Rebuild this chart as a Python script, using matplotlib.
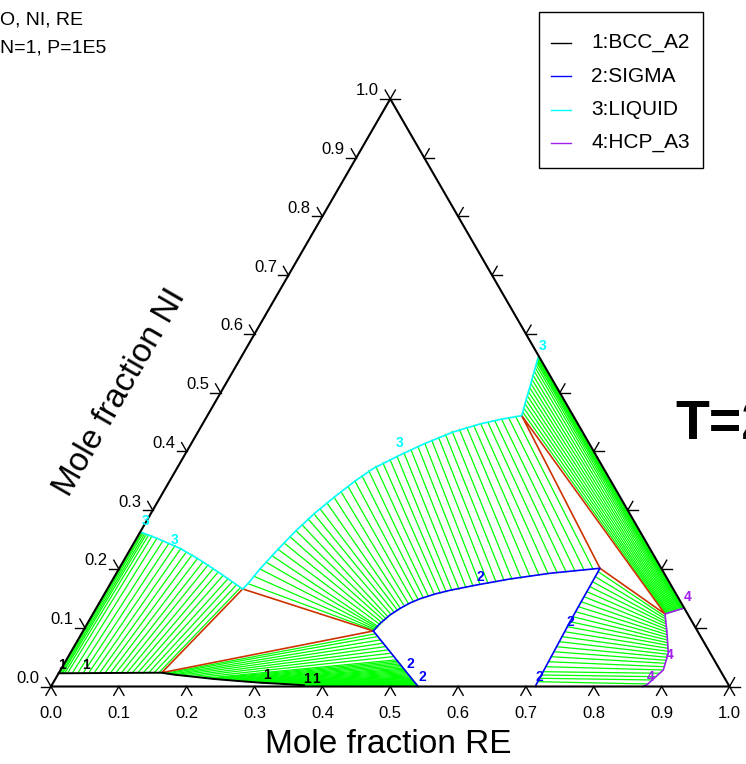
import numpy as np
import matplotlib.pyplot as plt

plt.rcParams['font.family'] = ['Liberation Sans', 'DejaVu Sans']

# ---- data: compositions as (mole fraction RE, mole fraction NI) ----
tick_values = [0.0, 0.1, 0.2, 0.3, 0.4, 0.5, 0.6, 0.7, 0.8, 0.9, 1.0]

phase_names = ['1:BCC_A2', '2:SIGMA', '3:LIQUID', '4:HCP_A3']
phase_colors = ['black', '#0000FF', '#00FFFF', '#A020F0']

# phase boundaries
bcc_re = [0.000, 0.075, 0.1515, 0.1728, 0.1994, 0.2338, 0.2709, 0.3063, 0.3352, 0.3626, 0.372]
bcc_ni = [0.0225, 0.0230, 0.0235, 0.0200, 0.0169, 0.0128, 0.0094, 0.0064, 0.0047, 0.0028, 0.0020]

liq_left_re = [0.003, 0.0297, 0.0725, 0.1119, 0.1528, 0.1995]
liq_left_ni = [0.262, 0.2523, 0.2352, 0.2153, 0.1927, 0.166]

liq_mid_re = [0.1995, 0.2028, 0.2080, 0.2178, 0.2285, 0.2407, 0.2561, 0.2732, 0.2895,
              0.3174, 0.3444, 0.3763, 0.4089, 0.4345, 0.4633, 0.4380]
liq_mid_ni = [0.166, 0.1751, 0.2000, 0.2335, 0.2652, 0.2938, 0.3220, 0.3496, 0.3711,
              0.3940, 0.4136, 0.4332, 0.4468, 0.4545, 0.4609, 0.5603]

sig_mid_re = [0.4278, 0.4313, 0.4388, 0.4480, 0.4580, 0.4692, 0.4872, 0.5061, 0.5410,
              0.5850, 0.6391, 0.7085, 0.7098, 0.7135, 0.7148]
sig_mid_ni = [0.0945, 0.1072, 0.1217, 0.1328, 0.1421, 0.1493, 0.1574, 0.1637, 0.1728,
              0.1830, 0.1927, 0.2012, 0.1103, 0.0026, 0.0]

sig_low_re = [0.4278, 0.541]
sig_low_ni = [0.0945, 0.0]

hcp_re = [0.8653, 0.8432, 0.8594, 0.8815, 0.8884, 0.8767, 0.872]
hcp_ni = [0.1331, 0.1234, 0.0962, 0.0565, 0.0281, 0.0026, 0.0]

# three-phase triangles
tri1_re = [0.1515, 0.1995, 0.4278]
tri1_ni = [0.0235, 0.166, 0.0945]
tri2_re = [0.4633, 0.7085, 0.8432]
tri2_ni = [0.4609, 0.2012, 0.1234]

# tie lines BCC + LIQUID
tl1_a_re = [0.000, 0.002, 0.004, 0.006, 0.009, 0.013, 0.020, 0.028, 0.036, 0.044, 0.052, 0.060,
            0.068, 0.076, 0.084, 0.092, 0.100, 0.108, 0.116, 0.124, 0.132, 0.140, 0.147]
tl1_a_ni = [0.0225] * 23
tl1_b_re = [0.003, 0.005, 0.008, 0.011, 0.015, 0.021, 0.030, 0.041, 0.052, 0.063, 0.074, 0.085,
            0.096, 0.107, 0.118, 0.128, 0.139, 0.149, 0.159, 0.169, 0.178, 0.187, 0.195]
tl1_b_ni = [0.262, 0.261, 0.260, 0.259, 0.258, 0.256, 0.252, 0.248, 0.244, 0.240, 0.235, 0.229,
            0.224, 0.218, 0.212, 0.207, 0.201, 0.195, 0.189, 0.183, 0.178, 0.173, 0.168]

# tie lines LIQUID + SIGMA
tl2_a_re = [0.2028, 0.2054, 0.2080, 0.2110, 0.2144, 0.2178, 0.2212, 0.2247, 0.2285, 0.2322,
            0.2362, 0.2407, 0.2454, 0.2507, 0.2561, 0.2616, 0.2674, 0.2732, 0.2791, 0.2849,
            0.2914, 0.2989, 0.3065, 0.3141, 0.3217, 0.3291, 0.3367, 0.3442, 0.3517, 0.3592,
            0.3668, 0.3743, 0.3832, 0.3922, 0.4011, 0.4101, 0.4192, 0.4281, 0.4370, 0.4461, 0.4550]
tl2_a_ni = [0.1751, 0.1876, 0.2000, 0.2117, 0.2226, 0.2335, 0.2444, 0.2550, 0.2652, 0.2754,
            0.2853, 0.2938, 0.3023, 0.3122, 0.3220, 0.3316, 0.3406, 0.3496, 0.3586, 0.3670,
            0.3745, 0.3806, 0.3862, 0.3917, 0.3973, 0.4029, 0.4083, 0.4136, 0.4190, 0.4240,
            0.4290, 0.4340, 0.4375, 0.4410, 0.4441, 0.4468, 0.4495, 0.4521, 0.4545, 0.4570, 0.4596]
tl2_b_re = [0.4282, 0.4289, 0.4296, 0.4302, 0.4308, 0.4322, 0.4335, 0.4348, 0.4361, 0.4375,
            0.4397, 0.4428, 0.4457, 0.4488, 0.4528, 0.4568, 0.4618, 0.4668, 0.4727, 0.4790,
            0.4867, 0.4943, 0.5020, 0.5096, 0.5186, 0.5274, 0.5364, 0.5455, 0.5562, 0.5669,
            0.5776, 0.5883, 0.6003, 0.6124, 0.6243, 0.6364, 0.6489, 0.6613, 0.6738, 0.6864, 0.6988]
tl2_b_ni = [0.0957, 0.0972, 0.0989, 0.1006, 0.1021, 0.1054, 0.1086, 0.1120, 0.1152, 0.1185,
            0.1227, 0.1262, 0.1298, 0.1328, 0.1366, 0.1405, 0.1445, 0.1483, 0.1516, 0.1540,
            0.1566, 0.1590, 0.1612, 0.1632, 0.1656, 0.1683, 0.1711, 0.1736, 0.1758, 0.1780,
            0.1803, 0.1823, 0.1848, 0.1872, 0.1898, 0.1922, 0.1939, 0.1954, 0.1969, 0.1985, 0.2000]

# tie lines BCC + SIGMA
tl3_a_re = [0.1555, 0.1602, 0.1665, 0.1728, 0.1806, 0.1900, 0.1994, 0.2104, 0.2213, 0.2276,
            0.2338, 0.2401, 0.2463, 0.2525, 0.2586, 0.2648, 0.2709, 0.2771, 0.2833, 0.2895,
            0.2956, 0.3010, 0.3063, 0.3116, 0.3169, 0.3215, 0.3261, 0.3307, 0.3352, 0.3390,
            0.3428, 0.3466, 0.3504, 0.3535, 0.3565, 0.3596, 0.3626]
tl3_a_ni = [0.0220, 0.0215, 0.0207, 0.0200, 0.0191, 0.0180, 0.0169, 0.0155, 0.0142, 0.0135,
            0.0128, 0.0122, 0.0115, 0.0110, 0.0105, 0.0100, 0.0094, 0.0089, 0.0083, 0.0078,
            0.0073, 0.0069, 0.0064, 0.0061, 0.0058, 0.0055, 0.0052, 0.0050, 0.0047, 0.0045,
            0.0042, 0.0040, 0.0037, 0.0035, 0.0033, 0.0031, 0.0028]
tl3_b_re = [0.4335, 0.4391, 0.4459, 0.4527, 0.4595, 0.4663, 0.4731, 0.4799, 0.4867, 0.4895,
            0.4923, 0.4952, 0.4980, 0.5008, 0.5036, 0.5059, 0.5082, 0.5105, 0.5127, 0.5150,
            0.5172, 0.5195, 0.5218, 0.5235, 0.5252, 0.5269, 0.5285, 0.5302, 0.5319, 0.5331,
            0.5342, 0.5354, 0.5365, 0.5376, 0.5387, 0.5399, 0.5410]
tl3_b_ni = [0.0898, 0.0851, 0.0794, 0.0737, 0.0680, 0.0624, 0.0567, 0.0510, 0.0454, 0.0430,
            0.0406, 0.0383, 0.0359, 0.0336, 0.0312, 0.0293, 0.0274, 0.0255, 0.0236, 0.0217,
            0.0198, 0.0180, 0.0161, 0.0147, 0.0132, 0.0118, 0.0104, 0.0090, 0.0076, 0.0067,
            0.0057, 0.0048, 0.0038, 0.0029, 0.0019, 0.0010, 0.0000]

# tie lines LIQUID + HCP
tl4_a_re = [0.4618, 0.4600, 0.4582, 0.4565, 0.4547, 0.4529, 0.4512, 0.4494, 0.4476, 0.4458,
            0.4441, 0.4426, 0.4413, 0.4403, 0.4395, 0.4390, 0.4385, 0.4383]
tl4_a_ni = [0.4669, 0.4738, 0.4808, 0.4877, 0.4947, 0.5017, 0.5086, 0.5156, 0.5225, 0.5295,
            0.5364, 0.5424, 0.5474, 0.5514, 0.5543, 0.5563, 0.5583, 0.5593]
tl4_b_re = [0.8443, 0.8454, 0.8465, 0.8476, 0.8489, 0.8503, 0.8516, 0.8529, 0.8543, 0.8556,
            0.8569, 0.8582, 0.8596, 0.8609, 0.8622, 0.8631, 0.8640, 0.8646]
tl4_b_ni = [0.1239, 0.1244, 0.1249, 0.1253, 0.1259, 0.1265, 0.1271, 0.1277, 0.1283, 0.1288,
            0.1294, 0.1300, 0.1306, 0.1312, 0.1317, 0.1321, 0.1325, 0.1328]

# tie lines SIGMA + HCP
tl5_a_re = [0.7086, 0.7088, 0.7089, 0.7090, 0.7091, 0.7091, 0.7092, 0.7094, 0.7095, 0.7096,
            0.7098, 0.7100, 0.7104, 0.7106, 0.7110, 0.7113, 0.7116, 0.7118, 0.7121, 0.7123,
            0.7128, 0.7130, 0.7131, 0.7134]
tl5_a_ni = [0.1954, 0.1869, 0.1784, 0.1699, 0.1614, 0.1528, 0.1443, 0.1358, 0.1273, 0.1188,
            0.1103, 0.1018, 0.0933, 0.0848, 0.0763, 0.0677, 0.0592, 0.0507, 0.0422, 0.0337,
            0.0252, 0.0196, 0.0140, 0.0082]
tl5_b_re = [0.8460, 0.8482, 0.8509, 0.8532, 0.8560, 0.8586, 0.8612, 0.8638, 0.8663, 0.8689,
            0.8715, 0.8740, 0.8769, 0.8797, 0.8820, 0.8831, 0.8844, 0.8856, 0.8870, 0.8883,
            0.8857, 0.8831, 0.8806, 0.8774]
tl5_b_ni = [0.1188, 0.1149, 0.1103, 0.1064, 0.1018, 0.0974, 0.0928, 0.0882, 0.0837, 0.0791,
            0.0746, 0.0701, 0.0650, 0.0599, 0.0548, 0.0497, 0.0446, 0.0395, 0.0337, 0.0281,
            0.0225, 0.0167, 0.0111, 0.0043]

# phase number labels: text, RE, NI, phase index
label_text = ['1', '1', '1', '1', '1', '3', '3', '3', '3', '2', '2', '2', '2', '2', '4', '4', '4']
label_re = [-0.003, 0.033, 0.3085, 0.3709, 0.3842, -0.001, 0.058, 0.307, 0.4353,
            0.539, 0.510, 0.5386, 0.710, 0.7111, 0.8626, 0.8855, 0.8762]
label_ni = [0.037, 0.037, 0.0196, 0.0128, 0.0128, 0.2817, 0.2494, 0.4145, 0.5796,
            0.1864, 0.0383, 0.0162, 0.1098, 0.0162, 0.1523, 0.0536, 0.0162]
label_phase = [0, 0, 0, 0, 0, 2, 2, 2, 2, 1, 1, 1, 1, 1, 3, 3, 3]

H = np.sqrt(3) / 2


def tern(re, ni):
    re = np.asarray(re, dtype=float)
    ni = np.asarray(ni, dtype=float)
    return re + ni / 2, ni * H


def draw_ties(ax, a_re, a_ni, b_re, b_ni):
    xa, ya = tern(a_re, a_ni)
    xb, yb = tern(b_re, b_ni)
    for i in range(len(xa)):
        ax.plot([xa[i], xb[i]], [ya[i], yb[i]], color='#00FF00', lw=0.9, zorder=1)


def draw_curve(ax, re, ni, color, lw=1.2):
    x, y = tern(re, ni)
    ax.plot(x, y, color=color, lw=lw, zorder=3)


fig = plt.figure(figsize=(7.46, 7.64), dpi=100)
ax = fig.add_axes([0, 0, 1, 1])
scale = 678.5
ax.set_xlim(-51 / scale, 695 / scale)
ax.set_ylim(-77.5 / scale, 686.5 / scale)
ax.axis('off')

# tie lines
draw_ties(ax, tl1_a_re, tl1_a_ni, tl1_b_re, tl1_b_ni)
draw_ties(ax, tl2_a_re, tl2_a_ni, tl2_b_re, tl2_b_ni)
draw_ties(ax, tl3_a_re, tl3_a_ni, tl3_b_re, tl3_b_ni)
draw_ties(ax, tl4_a_re, tl4_a_ni, tl4_b_re, tl4_b_ni)
draw_ties(ax, tl5_a_re, tl5_a_ni, tl5_b_re, tl5_b_ni)

# three-phase triangles
for tre, tni in [(tri1_re, tri1_ni), (tri2_re, tri2_ni)]:
    x, y = tern(tre + tre[:1], tni + tni[:1])
    ax.plot(x, y, color='#CC3300', lw=1.2, zorder=2)

# phase boundaries
draw_curve(ax, bcc_re, bcc_ni, 'black', lw=1.4)
draw_curve(ax, liq_left_re, liq_left_ni, '#00FFFF')
draw_curve(ax, liq_mid_re, liq_mid_ni, '#00FFFF')
draw_curve(ax, sig_mid_re, sig_mid_ni, '#0000FF')
draw_curve(ax, sig_low_re, sig_low_ni, '#0000FF')
draw_curve(ax, hcp_re, hcp_ni, '#A020F0')

# triangle frame
fx, fy = tern([0, 1, 0, 0], [0, 0, 1, 0])
ax.plot(fx, fy, color='black', lw=1.5, zorder=4)

# ticks
stub = 0.015
ang = np.deg2rad
for v in tick_values:
    bx, by = tern(v, 0)
    for a in (240, 300):
        ax.plot([bx, bx + stub * np.cos(ang(a))], [by, by + stub * np.sin(ang(a))],
                color='black', lw=1.0, zorder=4)
    ax.text(bx, by - 0.040, f'{v:.1f}', ha='center', va='center', fontsize=12)
    lx, ly = tern(0, v)
    for a in (180, 120):
        ax.plot([lx, lx + stub * np.cos(ang(a))], [ly, ly + stub * np.sin(ang(a))],
                color='black', lw=1.0, zorder=4)
    ax.text(lx - 0.017, ly + 0.012, f'{v:.1f}', ha='right', va='center', fontsize=12)
    rx, ry = tern(1 - v, v)
    for a in (0, 60):
        ax.plot([rx, rx + stub * np.cos(ang(a))], [ry, ry + stub * np.sin(ang(a))],
                color='black', lw=1.0, zorder=4)

# phase number labels
for t, re, ni, p in zip(label_text, label_re, label_ni, label_phase):
    x, y = tern(re, ni)
    ax.text(x, y, t, color=phase_colors[p], fontsize=10, fontweight='bold',
            ha='center', va='center', zorder=5)

# axis titles
ax.text(0.4967, -0.0862, 'Mole fraction RE', ha='center', va='center', fontsize=24)
ax.text(0.1016, 0.4326, 'Mole fraction NI', ha='center', va='center', fontsize=24,
        rotation=60, rotation_mode='anchor')

# header texts
fig.text(0.0, 1 - 20 / 764, 'O, NI, RE', ha='left', va='center', fontsize=14)
fig.text(0.0, 1 - 48 / 764, 'N=1, P=1E5', ha='left', va='center', fontsize=14)
fig.text(675 / 746, 1 - 425 / 764, 'T=2', ha='left', va='center', fontsize=40,
         fontweight='bold')

# legend box (figure pixel layout)
W, Hp = 746.0, 764.0
fig.add_artist(plt.Rectangle((539 / W, 1 - 168 / Hp), 164 / W, 156 / Hp,
                             transform=fig.transFigure, fill=False,
                             edgecolor='black', lw=1.0))
for i, (name, c) in enumerate(zip(phase_names, phase_colors)):
    yy = 1 - (43 + 33.3 * i) / Hp
    fig.add_artist(plt.Line2D([551 / W, 571 / W], [yy, yy], transform=fig.transFigure,
                              color=c, lw=1.0))
    fig.text(591 / W, yy, name, ha='left', va='center', fontsize=15)

fig.savefig('out.png', dpi=100)
